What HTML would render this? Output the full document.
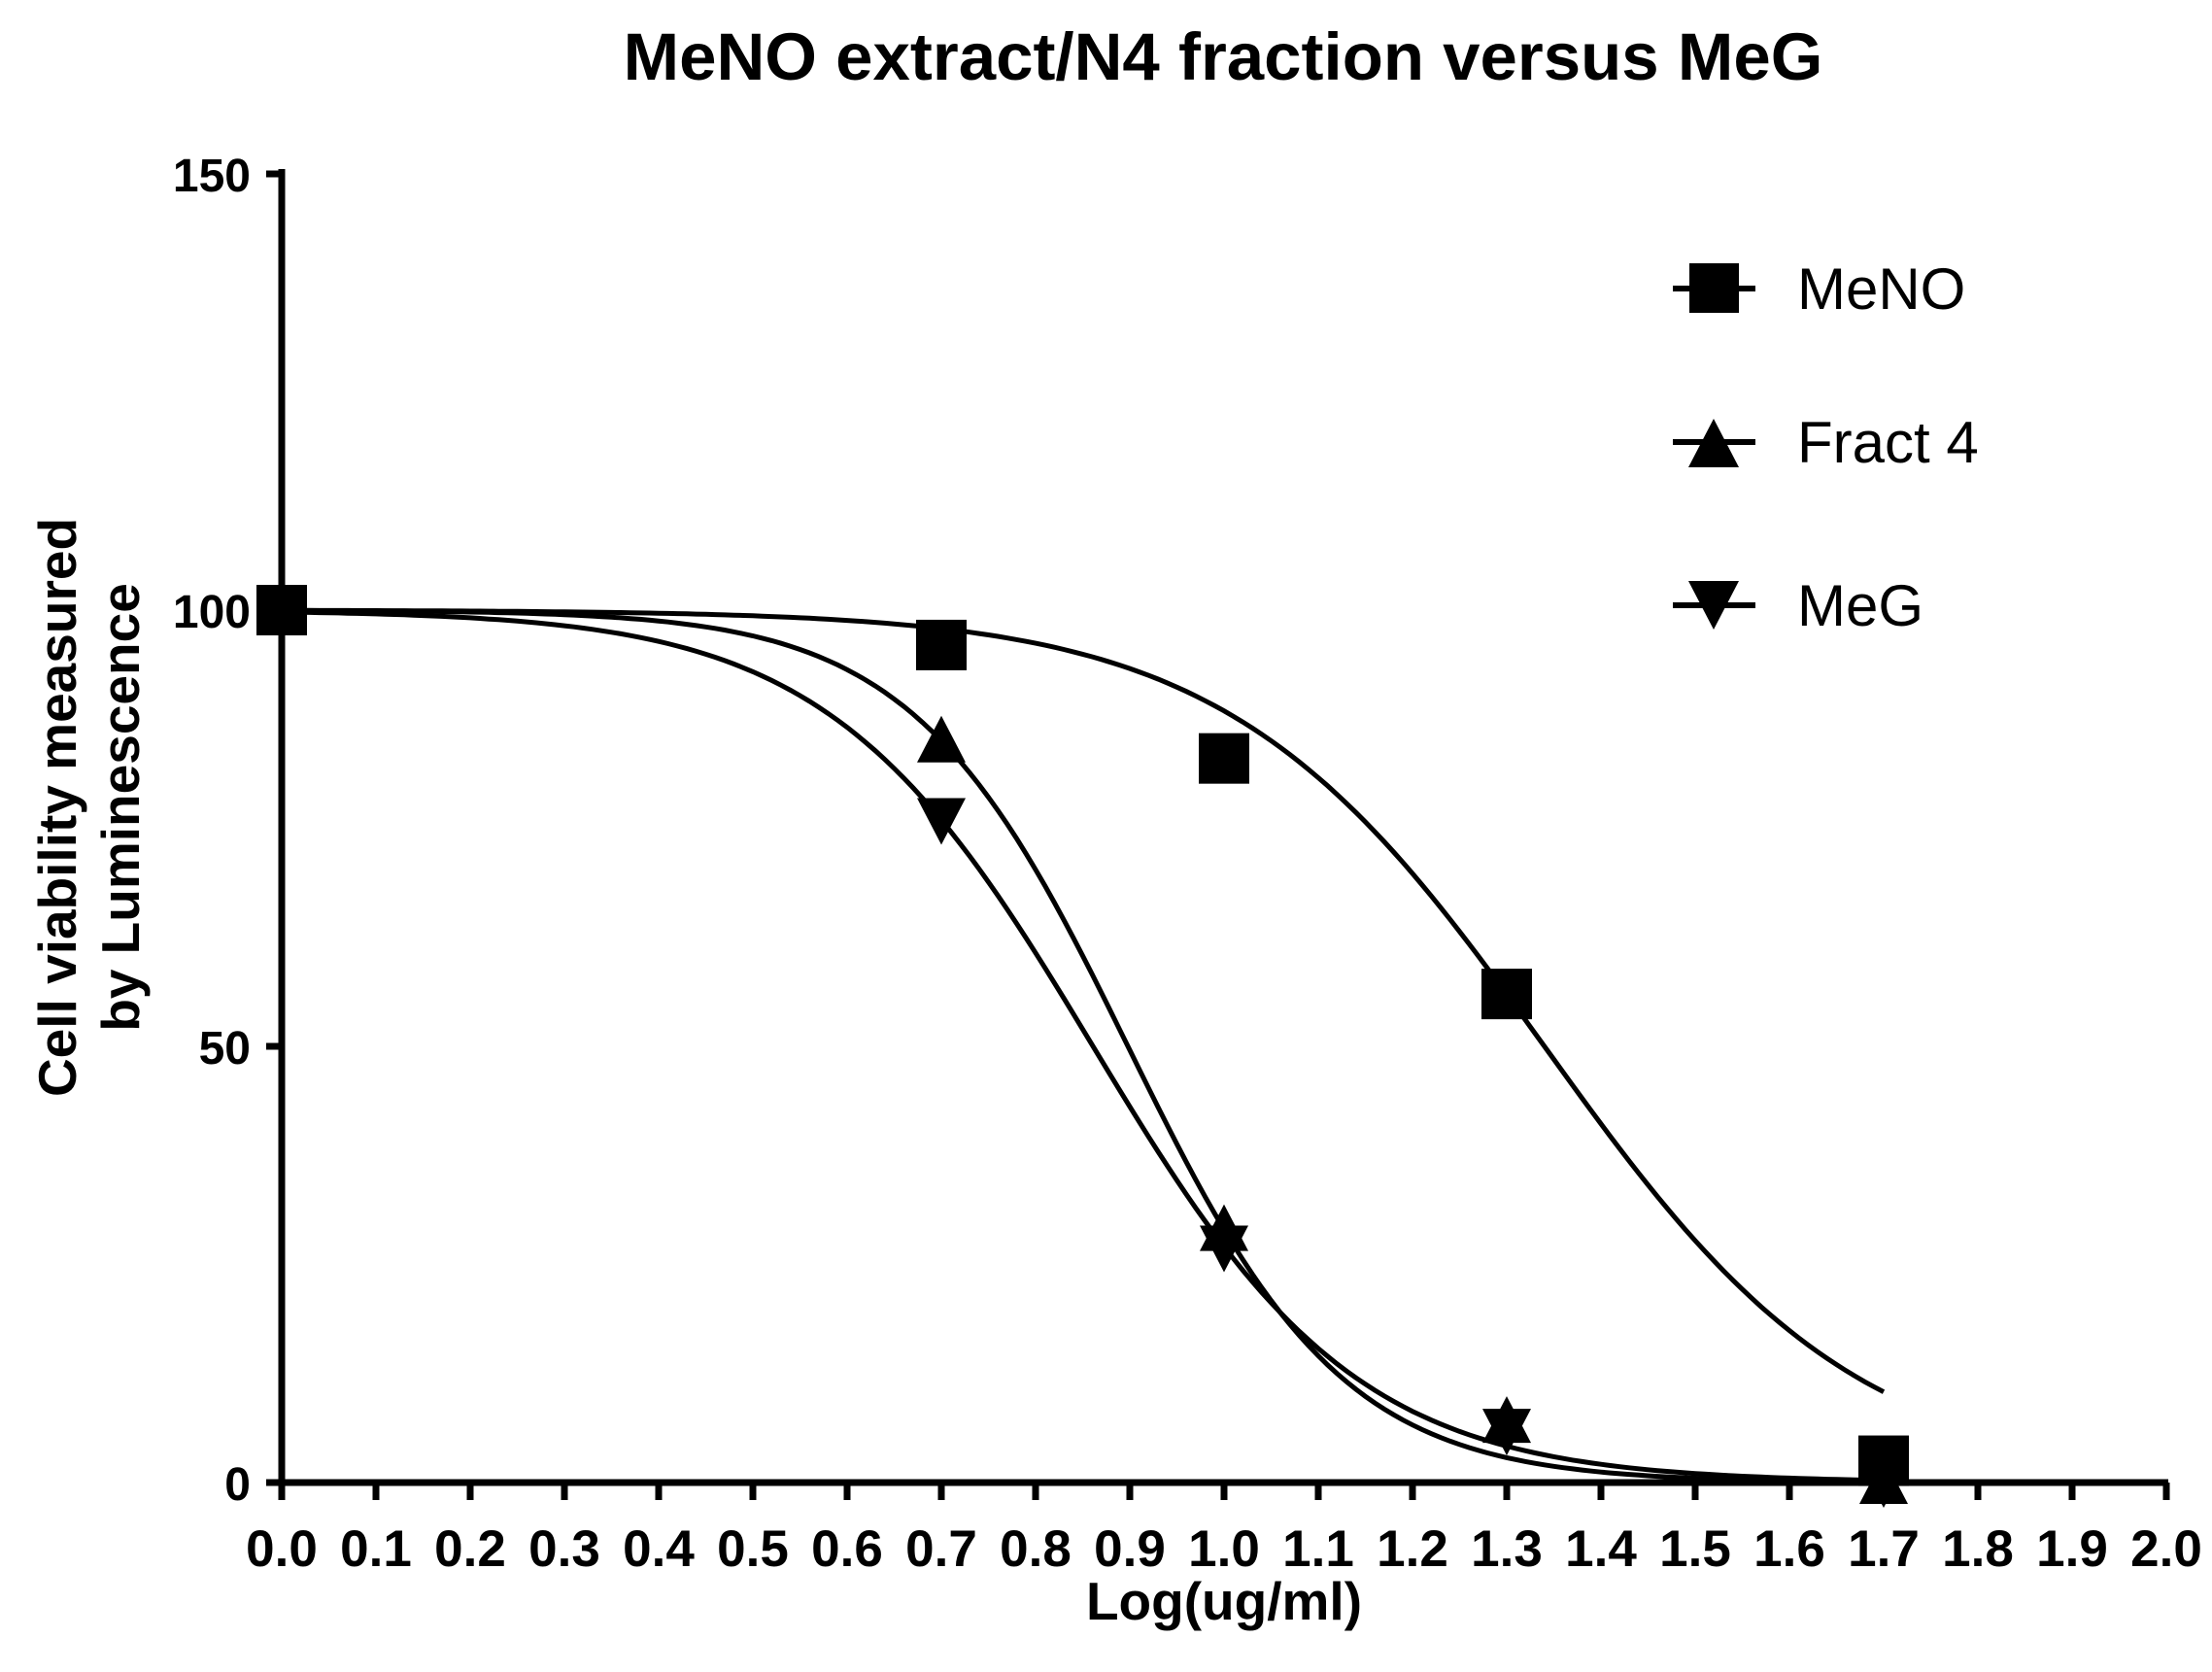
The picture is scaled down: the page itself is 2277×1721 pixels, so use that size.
<!DOCTYPE html>
<html><head><meta charset="utf-8"><style>
html,body{margin:0;padding:0;background:#fff;}
svg{display:block;}
text{font-family:"Liberation Sans",Arial,sans-serif;fill:#000;}
</style></head><body>
<svg id="s" width="2277" height="1721" viewBox="0 0 2277 1721" xmlns="http://www.w3.org/2000/svg">
<text x="1259" y="82" font-size="69" font-weight="bold" text-anchor="middle">MeNO extract/N4 fraction versus MeG</text>
<g id="ax" stroke="#000" stroke-width="7" fill="none"></g>
<g id="lbl" font-weight="bold"></g>
<text transform="translate(78,831) rotate(-90)" font-size="55" font-weight="bold" text-anchor="middle">Cell viability measured</text>
<text transform="translate(143,831) rotate(-90)" font-size="55" font-weight="bold" text-anchor="middle">by Luminescence</text>
<text x="1260" y="1667" font-size="55" font-weight="bold" text-anchor="middle">Log(ug/ml)</text>
<g id="curves" stroke="#000" stroke-width="5" fill="none"></g>
<g id="marks" fill="#000"></g>
<g stroke="#000" stroke-width="6">
<line x1="1722" y1="297" x2="1807" y2="297"/>
<line x1="1722" y1="455" x2="1807" y2="455"/>
<line x1="1722" y1="623" x2="1807" y2="623"/>
</g>
<rect x="1739" y="271" width="51" height="51" fill="#000"/>
<polygon points="1764,431 1790,481 1738,481" fill="#000"/>
<polygon points="1764,648 1790,598 1738,598" fill="#000"/>
<g font-size="60">
<text x="1850" y="318">MeNO</text>
<text x="1850" y="476">Fract 4</text>
<text x="1850" y="644">MeG</text>
</g>
</svg>
<script>
const NS="http://www.w3.org/2000/svg";
const X=v=>290+v*970, Y=v=>1526-v*8.98;
function el(p,t,a){const e=document.createElementNS(NS,t);for(const k in a)e.setAttribute(k,a[k]);document.getElementById(p).appendChild(e);return e;}
el("ax","line",{x1:290,y1:174,x2:290,y2:1529});
el("ax","line",{x1:274,y1:1526,x2:2232,y2:1526});
[0,50,100,150].forEach(v=>{el("ax","line",{x1:274,y1:Y(v),x2:290,y2:Y(v)});
 const t=el("lbl","text",{x:258,y:Y(v)+18,"text-anchor":"end","font-size":48});t.textContent=v;});
for(let i=0;i<=20;i++){const x=X(i/10);el("ax","line",{x1:x,y1:1526,x2:x,y2:1544});
 const t=el("lbl","text",{x:x,y:1612,"text-anchor":"middle","font-size":53});t.textContent=(i/10).toFixed(1);}
function curve(c,h){let d="";for(let i=0;i<=170;i++){const x=i/100;const y=100/(1+Math.pow(10,(x-c)*h));d+=(i?"L":"M")+X(x).toFixed(1)+","+Y(y).toFixed(1);}el("curves","path",{d:d});}
curve(1.34,2.6);curve(0.898,3.81);curve(0.861,3.1);
function sq(x,y){el("marks","rect",{x:X(x)-26,y:Y(y)-26,width:52,height:52});}
function up(x,y){const a=X(x),b=Y(y);el("marks","polygon",{points:`${a},${b-26} ${a+25},${b+22} ${a-25},${b+22}`});}
function dn(x,y){const a=X(x),b=Y(y);el("marks","polygon",{points:`${a},${b+26} ${a+25},${b-22} ${a-25},${b-22}`});}
up(0.7,85);up(1.0,29);up(1.3,7);up(1.7,0);
dn(0.7,76);dn(1.0,27);dn(1.3,6);dn(1.7,0);
sq(0,100);sq(0.7,96);sq(1.0,83);sq(1.3,56);sq(1.7,2.5);
</script>
</body></html>
